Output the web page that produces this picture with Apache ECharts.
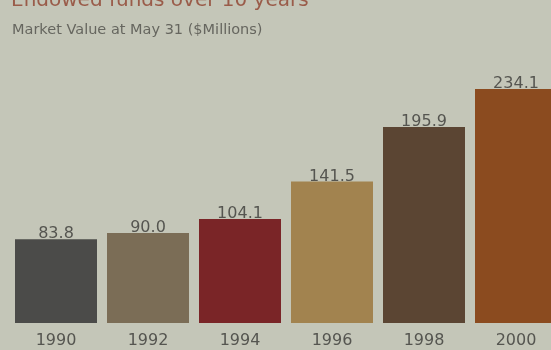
<!DOCTYPE html>
<html><head><meta charset="utf-8">
<script src="https://cdn.jsdelivr.net/npm/echarts@6/dist/echarts.min.js"></script>
<style>html,body{margin:0;padding:0;background:#c4c6b8}#c{width:551px;height:350px}</style>
</head><body><div id="c"></div>
<script>
const years = ['1990','1992','1994','1996','1998','2000'];
const values = [83.8, 90.0, 104.1, 141.5, 195.9, 234.1];
const labels = ['83.8','90.0','104.1','141.5','195.9','234.1'];
const colors = ['#4b4b49','#7b6d56','#7a2527','#a2834f','#5b4533','#8b4b1f'];
const chart = echarts.init(document.getElementById('c'));
chart.setOption({
  backgroundColor: '#c4c6b8',
  animation: false,
  title: [
    {text: 'Endowed funds over 10 years', left: 6, top: -14, textStyle: {fontFamily: 'DejaVu Sans', fontSize: 20, fontWeight: 'normal', color: '#9a5c4a'}},
    {text: 'Market Value at May 31 ($Millions)', left: 7, top: 18, textStyle: {fontFamily: 'DejaVu Sans', fontSize: 14.5, fontWeight: 'normal', color: '#66665f'}}
  ],
  grid: {left: 10, top: 23, width: 552, height: 300, containLabel: false, outerBoundsMode: 'none'},
  xAxis: {
    type: 'category', data: years,
    axisLine: {show: false}, axisTick: {show: false},
    axisLabel: {fontFamily: 'DejaVu Sans', fontSize: 16, color: '#555550', margin: 10}
  },
  yAxis: {type: 'value', min: 0, max: 300, show: false, splitLine: {show: false}},
  series: [{
    type: 'bar', barWidth: 82,
    data: values.map((v, i) => ({value: v, itemStyle: {color: colors[i]}})),
    label: {show: true, position: 'top', distance: -3,
      formatter: p => labels[p.dataIndex],
      fontFamily: 'DejaVu Sans', fontSize: 16, color: '#555550'}
  }]
});
</script></body></html>
